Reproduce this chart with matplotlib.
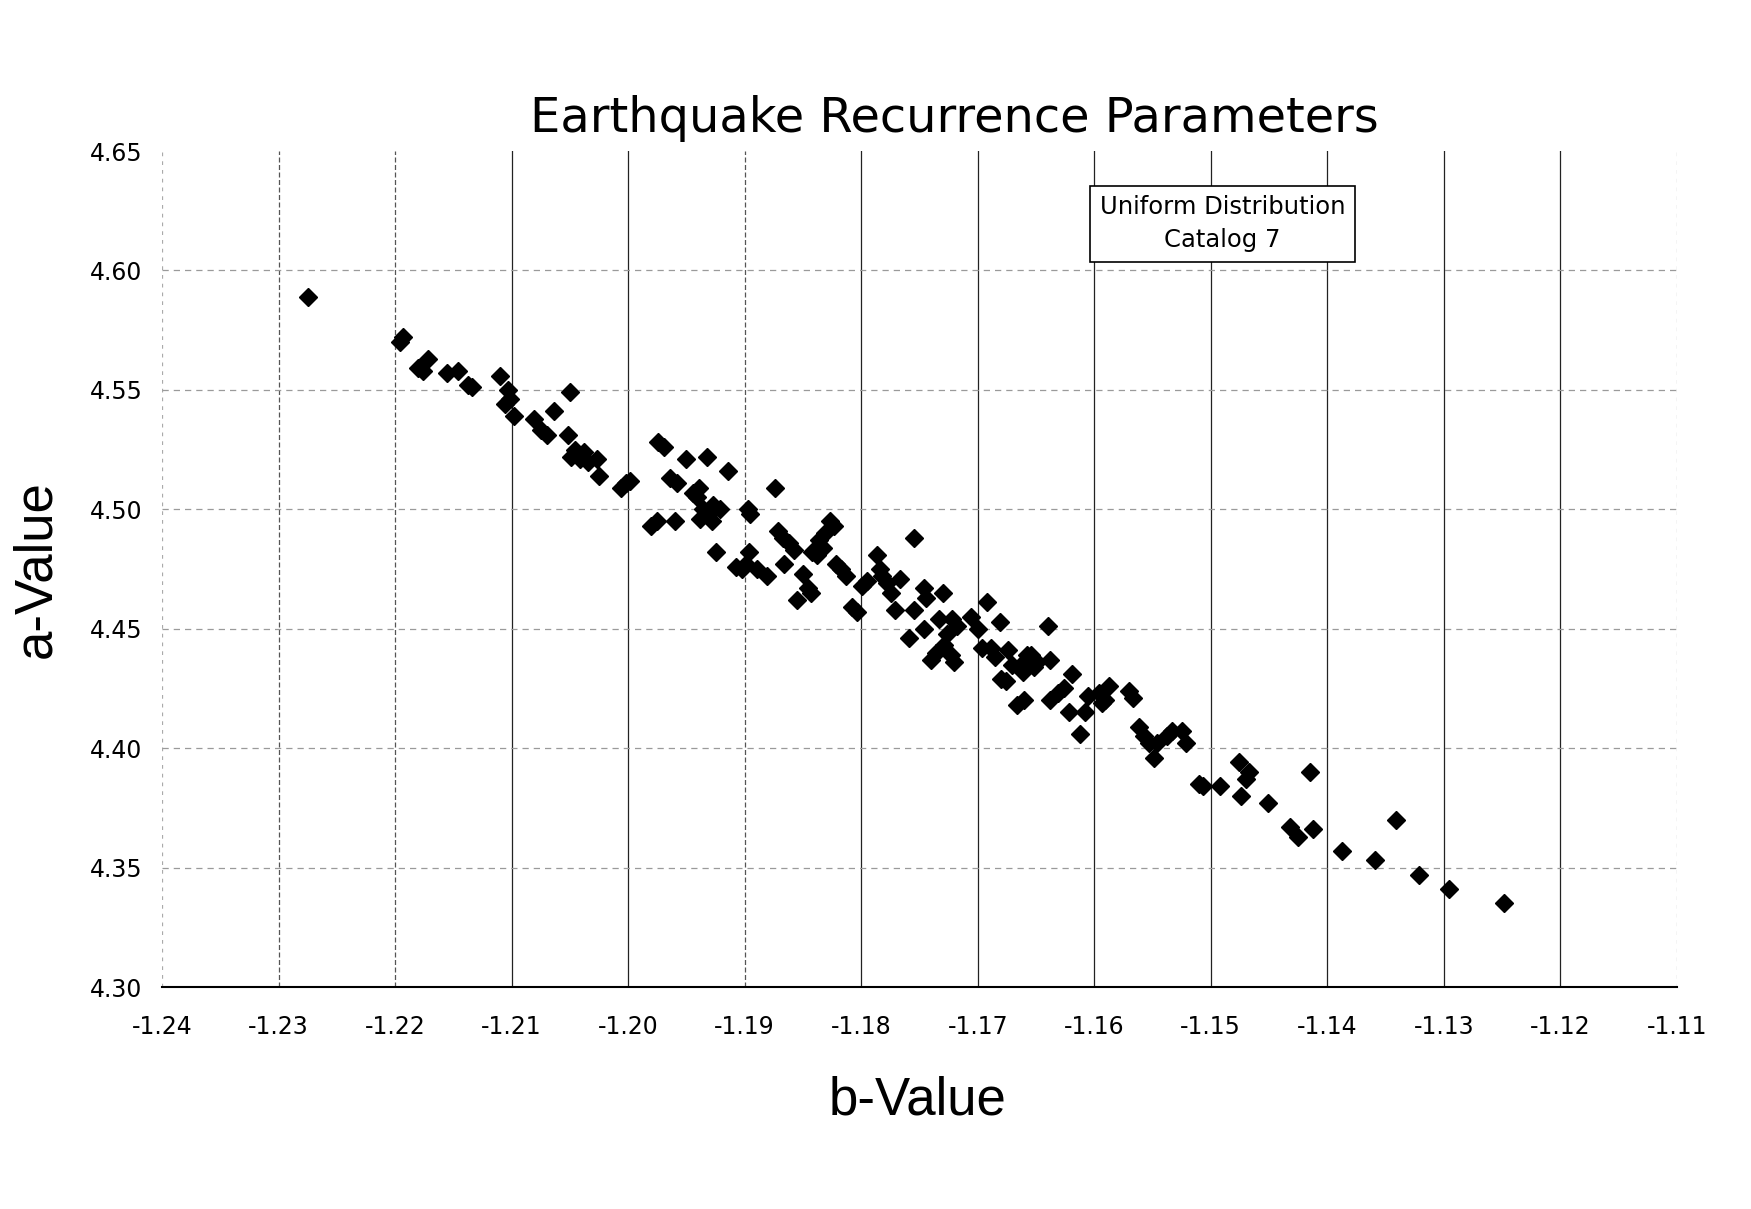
import numpy as np
import matplotlib
matplotlib.use("Agg")
import matplotlib.pyplot as plt
from matplotlib.ticker import FormatStrFormatter

# b-value / a-value pairs
b_values = [
    -1.2275, -1.2196, -1.2193, -1.2180, -1.2176, -1.2172, -1.2155, -1.2146, -1.2137, -1.2134,
    -1.2110, -1.2103, -1.2101, -1.2106, -1.2098, -1.2081, -1.2075, -1.2070, -1.2064, -1.2052,
    -1.2050, -1.2049, -1.2046, -1.2041, -1.2038, -1.2034, -1.2027, -1.2025, -1.2006, -1.2002,
    -1.1998, -1.1974, -1.1969, -1.1980, -1.1975, -1.1964, -1.1958, -1.1960, -1.1950, -1.1944,
    -1.1941, -1.1939, -1.1932, -1.1938, -1.1931, -1.1928, -1.1936, -1.1927, -1.1925, -1.1921,
    -1.1914, -1.1907, -1.1902, -1.1899, -1.1897, -1.1895, -1.1896, -1.1889, -1.1881, -1.1874,
    -1.1871, -1.1867, -1.1866, -1.1862, -1.1858, -1.1855, -1.1850, -1.1846, -1.1843, -1.1842,
    -1.1838, -1.1836, -1.1833, -1.1831, -1.1827, -1.1823, -1.1822, -1.1817, -1.1813, -1.1808,
    -1.1804, -1.1799, -1.1795, -1.1786, -1.1784, -1.1782, -1.1778, -1.1774, -1.1771, -1.1767,
    -1.1759, -1.1755, -1.1755, -1.1746, -1.1744, -1.1746, -1.1740, -1.1736, -1.1733, -1.1730,
    -1.1729, -1.1726, -1.1723, -1.1720, -1.1722, -1.1718, -1.1706, -1.1700, -1.1696, -1.1692,
    -1.1689, -1.1685, -1.1681, -1.1680, -1.1676, -1.1674, -1.1671, -1.1666, -1.1660, -1.1663,
    -1.1661, -1.1658, -1.1654, -1.1652, -1.1649, -1.1640, -1.1638, -1.1638, -1.1631, -1.1626,
    -1.1622, -1.1619, -1.1612, -1.1608, -1.1605, -1.1596, -1.1593, -1.1591, -1.1587, -1.1570,
    -1.1567, -1.1562, -1.1557, -1.1553, -1.1549, -1.1546, -1.1538, -1.1533, -1.1525, -1.1521,
    -1.1510, -1.1507, -1.1492, -1.1476, -1.1474, -1.1470, -1.1467, -1.1451, -1.1432, -1.1425,
    -1.1415, -1.1412, -1.1387, -1.1359, -1.1341, -1.1321, -1.1296, -1.1248,
]
a_values = [
    4.589, 4.570, 4.572, 4.559, 4.558, 4.563, 4.557, 4.558, 4.552, 4.551,
    4.556, 4.550, 4.546, 4.544, 4.539, 4.538, 4.533, 4.531, 4.541, 4.531,
    4.549, 4.522, 4.525, 4.521, 4.524, 4.520, 4.521, 4.514, 4.509, 4.511,
    4.512, 4.528, 4.526, 4.493, 4.495, 4.513, 4.511, 4.495, 4.521, 4.507,
    4.505, 4.509, 4.522, 4.496, 4.498, 4.495, 4.500, 4.502, 4.482, 4.500,
    4.516, 4.476, 4.475, 4.477, 4.500, 4.498, 4.482, 4.475, 4.472, 4.509,
    4.491, 4.488, 4.477, 4.486, 4.483, 4.462, 4.473, 4.467, 4.465, 4.482,
    4.481, 4.487, 4.484, 4.490, 4.495, 4.493, 4.477, 4.475, 4.472, 4.459,
    4.457, 4.468, 4.470, 4.481, 4.475, 4.472, 4.469, 4.465, 4.458, 4.471,
    4.446, 4.488, 4.458, 4.467, 4.463, 4.450, 4.437, 4.440, 4.454, 4.465,
    4.443, 4.448, 4.439, 4.436, 4.454, 4.451, 4.455, 4.450, 4.442, 4.461,
    4.442, 4.438, 4.453, 4.429, 4.428, 4.441, 4.435, 4.418, 4.420, 4.435,
    4.432, 4.439, 4.439, 4.434, 4.436, 4.451, 4.437, 4.420, 4.423, 4.425,
    4.415, 4.431, 4.406, 4.415, 4.422, 4.423, 4.419, 4.420, 4.426, 4.424,
    4.421, 4.409, 4.405, 4.402, 4.396, 4.402, 4.405, 4.407, 4.407, 4.402,
    4.385, 4.384, 4.384, 4.394, 4.380, 4.387, 4.390, 4.377, 4.367, 4.363,
    4.390, 4.366, 4.357, 4.353, 4.370, 4.347, 4.341, 4.335,
]

x_ticks = [-1.24, -1.23, -1.22, -1.21, -1.20, -1.19, -1.18, -1.17, -1.16, -1.15, -1.14, -1.13, -1.12, -1.11]
y_ticks = [4.30, 4.35, 4.40, 4.45, 4.50, 4.55, 4.60, 4.65]

fig = plt.figure(figsize=(17.51, 12.09), dpi=100)
ax = fig.add_axes([0.0925, 0.1836, 0.8652, 0.6915])

ax.plot(b_values, a_values, linestyle='none', marker='D', ms=9, color='black', zorder=3)

ax.set_xlim(-1.24, -1.11)
ax.set_ylim(4.30, 4.65)
ax.set_xticks(x_ticks)
ax.set_yticks(y_ticks)
ax.xaxis.set_major_formatter(FormatStrFormatter('%.2f'))
ax.yaxis.set_major_formatter(FormatStrFormatter('%.2f'))
ax.tick_params(axis='x', length=0, pad=20, labelsize=17)
ax.tick_params(axis='y', length=0, pad=14, labelsize=17)

# grid: vertical lines darker, horizontal ones faint and broken like the scan
ax.grid(True, axis='x', color='#222222', linewidth=0.9, linestyle='-')
ax.grid(True, axis='y', color='#9a9a9a', linewidth=0.9, linestyle=(0, (5, 4)))
for i, gl in enumerate(ax.xaxis.get_gridlines()):
    if x_ticks[i] in (-1.23, -1.22, -1.19):
        gl.set_linestyle((0, (4, 2)))
        gl.set_color('#555555')
    if i == 0 or i == len(x_ticks) - 1:
        gl.set_linestyle((0, (3, 4)))
        gl.set_color('#aaaaaa')
ax.yaxis.get_gridlines()[-1].set_visible(False)
ax.set_axisbelow(True)

for s in ['top', 'right', 'left']:
    ax.spines[s].set_visible(False)
ax.spines['bottom'].set_linewidth(1.5)

fig.text(0.545, 0.902, 'Earthquake Recurrence Parameters', ha='center', va='center', fontsize=34.5)
fig.text(0.524, 0.090, 'b-Value', ha='center', va='center', fontsize=38, family='Liberation Sans')
fig.text(0.0206, 0.529, 'a-Value', ha='center', va='center', fontsize=38, rotation=90,
         family='Liberation Sans')

ax.text(0.700, 0.913, 'Uniform Distribution\nCatalog 7', transform=ax.transAxes,
        ha='center', va='center', fontsize=17.5, linespacing=1.45,
        bbox=dict(boxstyle='square,pad=0.4', facecolor='white', edgecolor='black', linewidth=1.2),
        zorder=5)

fig.savefig('out.png', dpi=100)
